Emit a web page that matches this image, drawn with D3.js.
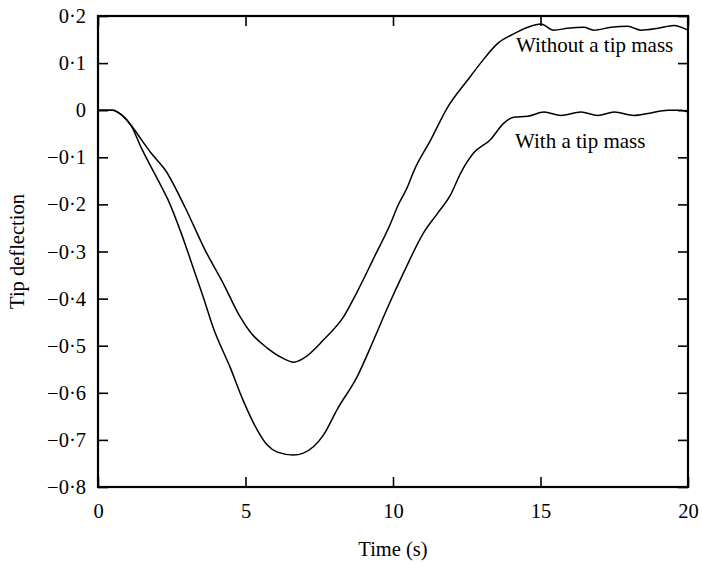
<!DOCTYPE html>
<html>
<head>
<meta charset="utf-8">
<script src="https://cdn.jsdelivr.net/npm/d3@7/dist/d3.min.js"></script>
<style>
  body { margin: 0; background: #fff; }
  svg { display: block; }
  text { font-family: "Liberation Serif", "DejaVu Serif", serif; fill: #000; }
</style>
</head>
<body>
<svg id="chart" width="702" height="565"></svg>
<script>
// ---- data ----
const timeWithout = [0, 0.5, 0.8, 1.12, 1.5, 1.8, 2.28, 2.95, 3.63, 4.24, 4.82, 5.16, 5.74, 6.28, 6.62, 6.96, 7.64, 8.32, 8.79, 9.34, 9.92, 10.15, 10.49, 10.7, 11.27, 11.85, 12.53, 12.97, 13.55, 14.09, 14.57, 15.01, 15.45, 15.92, 16.47, 16.81, 17.39, 17.96, 18.4, 18.98, 19.52, 20];
const deflWithout = [0, 0, -0.01, -0.032, -0.065, -0.091, -0.127, -0.206, -0.297, -0.367, -0.439, -0.471, -0.505, -0.527, -0.535, -0.527, -0.488, -0.439, -0.385, -0.315, -0.240, -0.205, -0.163, -0.130, -0.064, 0.006, 0.064, 0.100, 0.142, 0.162, 0.176, 0.183, 0.170, 0.174, 0.176, 0.170, 0.176, 0.178, 0.170, 0.174, 0.180, 0.170];

const timeWith = [0, 0.5, 0.8, 1.12, 1.46, 2.04, 2.38, 2.82, 3.29, 3.57, 3.9, 4.48, 4.92, 5.4, 5.74, 6.08, 6.62, 6.96, 7.64, 8.11, 8.79, 9.24, 9.81, 10.36, 11.04, 11.51, 11.95, 12.29, 12.73, 13.31, 13.75, 14.09, 14.57, 15.12, 15.69, 16.37, 16.94, 17.5, 18.17, 18.64, 19.32, 19.76, 20];
const deflWith = [0, 0, -0.01, -0.032, -0.079, -0.149, -0.191, -0.261, -0.346, -0.397, -0.461, -0.546, -0.616, -0.679, -0.711, -0.726, -0.732, -0.728, -0.690, -0.635, -0.565, -0.503, -0.420, -0.345, -0.260, -0.219, -0.180, -0.134, -0.091, -0.062, -0.028, -0.015, -0.013, -0.004, -0.011, -0.004, -0.011, -0.004, -0.011, -0.007, 0.0, 0.0, -0.004];

const xTicks = [0, 5, 10, 15, 20];
const yTicks = [0.2, 0.1, 0, -0.1, -0.2, -0.3, -0.4, -0.5, -0.6, -0.7, -0.8];
const seriesLabels = ["Without a tip mass", "With a tip mass"];
const xTitle = "Time (s)";
const yTitle = "Tip deflection";

// ---- layout ----
const svg = d3.select("#chart");
const L = 98, R = 688, T = 16, B = 487;
const x = d3.scaleLinear().domain([0, 20]).range([L, R]);
const y = d3.scaleLinear().domain([-0.8, 0.2]).range([B, T]);

const fmtY = v => {
  if (Math.abs(v) < 1e-9) return "0";
  return (v < 0 ? "\u2212" : "") + Math.abs(v).toFixed(1).replace(".", "\u00B7");
};

const tickLen = 10;
const gl = svg.append("g").attr("transform", `translate(${L},0)`)
  .call(d3.axisLeft(y).tickValues(yTicks).tickFormat(fmtY).tickSize(-tickLen).tickPadding(12));
const gb = svg.append("g").attr("transform", `translate(0,${B})`)
  .call(d3.axisBottom(x).tickValues(xTicks).tickFormat(d3.format("d")).tickSize(-tickLen).tickPadding(16));
const gr = svg.append("g").attr("transform", `translate(${R},0)`)
  .call(d3.axisRight(y).tickValues(yTicks).tickFormat("").tickSize(-tickLen));
const gt = svg.append("g").attr("transform", `translate(0,${T})`)
  .call(d3.axisTop(x).tickValues(xTicks).tickFormat("").tickSize(-tickLen));

[gl, gb, gr, gt].forEach(g => {
  g.select(".domain").remove();
  g.selectAll(".tick line").attr("stroke", "#000").attr("stroke-width", 1.6);
  g.selectAll("text").style("font-family", "'Liberation Serif', serif").style("font-size", "20.5px").attr("fill", "#000");
});

// frame
svg.append("rect").attr("x", L).attr("y", T).attr("width", R - L).attr("height", B - T)
  .attr("fill", "none").attr("stroke", "#000").attr("stroke-width", 2.2);

// lines
const line = d3.line().x(d => x(d[0])).y(d => y(d[1])).curve(d3.curveMonotoneX);
const dataA = timeWithout.map((t, i) => [t, deflWithout[i]]);
const dataB = timeWith.map((t, i) => [t, deflWith[i]]);
[dataA, dataB].forEach(d => {
  svg.append("path").datum(d).attr("d", line)
    .attr("fill", "none").attr("stroke", "#000").attr("stroke-width", 1.5);
});

// series labels
svg.append("text").attr("x", 516).attr("y", 52).style("font-size", "21px").text(seriesLabels[0]);
svg.append("text").attr("x", 515).attr("y", 148).style("font-size", "21px").text(seriesLabels[1]);

// axis titles
svg.append("text").attr("x", (L + R) / 2).attr("y", 556).attr("text-anchor", "middle")
  .style("font-size", "20.5px").text(xTitle);
svg.append("text").attr("transform", `translate(24,${(T + B) / 2}) rotate(-90)`)
  .attr("text-anchor", "middle").style("font-size", "20.5px").text(yTitle);
</script>
</body>
</html>
